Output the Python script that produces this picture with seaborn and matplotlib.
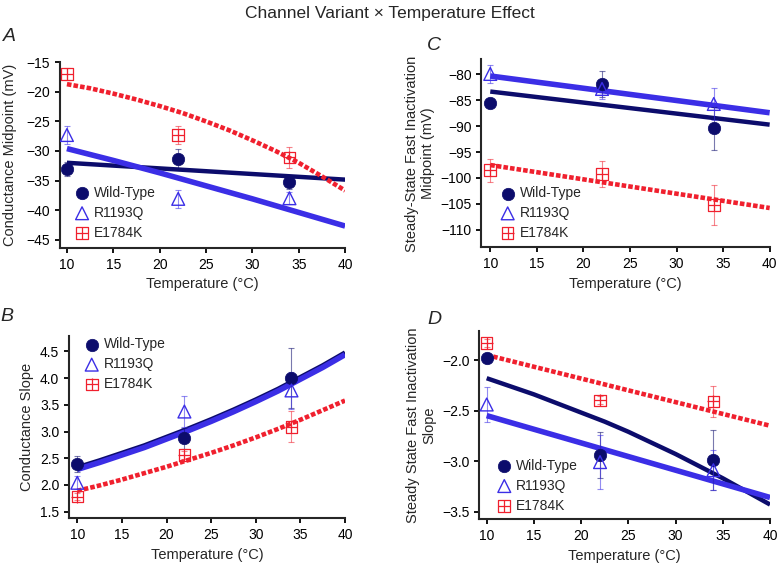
import matplotlib
matplotlib.use("Agg")
import matplotlib.pyplot as plt
from matplotlib.legend_handler import HandlerTuple
import seaborn as sns

# ---- data ----
temps = [10, 22, 34]
groups = ["Wild-Type", "R1193Q", "E1784K"]
fine_t = [10, 12.5, 15, 17.5, 20, 22.5, 25, 27.5, 30, 32.5, 35, 37.5, 40]

# panel A: conductance midpoint (mV)
a_wt = [-33.1, -31.3, -35.3]
a_wt_err = [1.2, 1.6, 1.2]
a_r = [-27.3, -38.1, -38.0]
a_r_err = [1.6, 1.5, 1.0]
a_e = [-17.0, -27.3, -31.1]
a_e_err = [1.0, 1.6, 1.7]
a_fit_wt_t = [10, 40]
a_fit_wt = [-32.0, -34.85]
a_fit_r_t = [10, 15, 20, 25, 30, 35, 40]
a_fit_r = [-29.6, -31.6, -33.7, -35.9, -38.1, -40.4, -42.7]
a_fit_e = [-18.7, -19.4, -20.3, -21.3, -22.4, -23.6, -25.0,
           -26.5, -28.2, -30.0, -32.0, -34.3, -36.7]

# panel B: conductance slope
b_wt = [2.39, 2.875, 4.0]
b_wt_err = [0.15, 0.2, 0.56]
b_r = [2.04, 3.375, 3.77]
b_r_err = [0.12, 0.29, 0.35]
b_e = [1.78, 2.56, 3.09]
b_e_err = [0.07, 0.07, 0.29]
b_fit_wt = [2.33, 2.46, 2.60, 2.74, 2.90, 3.06, 3.23,
            3.41, 3.60, 3.80, 4.02, 4.24, 4.48]
b_fit_r = [2.29, 2.42, 2.56, 2.70, 2.86, 3.02, 3.19,
           3.37, 3.56, 3.76, 3.98, 4.20, 4.44]
b_fit_e = [1.89, 1.99, 2.10, 2.22, 2.34, 2.47, 2.60,
           2.74, 2.89, 3.05, 3.22, 3.40, 3.58]

# panel C: steady-state fast inactivation midpoint (mV)
c_wt = [-85.5, -81.9, -90.4]
c_wt_err = [0.6, 2.5, 4.2]
c_r = [-79.9, -82.8, -85.7]
c_r_err = [1.7, 2.0, 3.1]
c_e = [-98.5, -99.2, -105.2]
c_e_err = [2.2, 2.5, 3.8]
c_fit_t = [10, 40]
c_fit_wt = [-83.3, -89.7]
c_fit_r = [-80.3, -87.4]
c_fit_e = [-97.5, -105.8]

# panel D: steady state fast inactivation slope
d_wt = [-1.98, -2.94, -2.99]
d_wt_err = [0.05, 0.23, 0.3]
d_r = [-2.44, -3.01, -3.09]
d_r_err = [0.17, 0.27, 0.2]
d_e = [-1.83, -2.40, -2.41]
d_e_err = [0.04, 0.04, 0.15]
d_fit_wt = [-2.18, -2.26, -2.34, -2.43, -2.52, -2.61, -2.71,
            -2.82, -2.93, -3.05, -3.17, -3.30, -3.43]
d_fit_t = [10, 40]
d_fit_r = [-2.55, -3.36]
d_fit_e = [-1.95, -2.65]

NAVY = "#0c0c6c"
BLUE = "#3b2ee6"
RED = "#f0202e"

sns.set_style("ticks")
plt.rcParams["font.family"] = ["Liberation Sans", "DejaVu Sans"]
plt.rcParams["axes.linewidth"] = 1.5
plt.rcParams["xtick.major.width"] = 1.3
plt.rcParams["ytick.major.width"] = 1.3
plt.rcParams["xtick.major.size"] = 3.5
plt.rcParams["ytick.major.size"] = 3.5
plt.rcParams["xtick.labelsize"] = 10
plt.rcParams["ytick.labelsize"] = 10
plt.rcParams["axes.labelsize"] = 10.5


def draw_panel(ax, pts, fits, legend_loc, legend_anchor):
    # fit lines: navy, blue, then red dotted on top
    for (ft, fy), col, lw, ls in zip(fits, [NAVY, BLUE, RED], [3.2, 4.0, 3.3],
                                     ["-", "-", (0, (1, 0.45))]):
        sns.lineplot(x=ft, y=fy, color=col, lw=lw, ls=ls, ax=ax,
                     solid_capstyle="butt", dash_capstyle="butt",
                     solid_joinstyle="round", zorder=2)
    (wt, wt_e), (r, r_e), (e, e_e) = pts
    for y, err, col in [(wt, wt_e, NAVY), (r, r_e, BLUE), (e, e_e, RED)]:
        ax.errorbar(temps, y, yerr=err, fmt="none", ecolor=col, alpha=0.55,
                    elinewidth=0.8, capsize=2, capthick=0.8, zorder=3)
    sns.scatterplot(x=temps, y=wt, marker="o", s=80, color=NAVY,
                    edgecolor=NAVY, linewidth=0.5, ax=ax, zorder=4)
    h_wt = ax.collections[-1]
    sns.scatterplot(x=temps, y=r, marker="^", s=85, color=BLUE,
                    facecolors="none", edgecolor=BLUE, linewidth=1.0,
                    ax=ax, zorder=4)
    h_r = ax.collections[-1]
    sns.scatterplot(x=temps, y=e, marker="s", s=70, color=RED,
                    facecolors="none", edgecolor=RED, linewidth=0.9,
                    ax=ax, zorder=4)
    h_sq = ax.collections[-1]
    sns.scatterplot(x=temps, y=e, marker="+", s=70, color=RED,
                    edgecolor=RED, linewidth=0.9, ax=ax, zorder=4)
    h_pl = ax.collections[-1]
    ax.legend(handles=[h_wt, h_r, (h_sq, h_pl)], labels=groups,
              handler_map={tuple: HandlerTuple(ndivide=1)},
              loc=legend_loc, bbox_to_anchor=legend_anchor, frameon=False,
              fontsize=10, handlelength=1.0, handletextpad=0.35,
              labelspacing=0.42, borderpad=0, borderaxespad=0)
    sns.despine(ax=ax)
    ax.set_xticks([10, 15, 20, 25, 30, 35, 40])
    ax.set_xlabel("Temperature (°C)")
    ax.tick_params(direction="out", colors="black")


fig = plt.figure(figsize=(7.79, 5.66), dpi=100)

axA = fig.add_axes([0.077, 0.562, 0.366, 0.329])
draw_panel(axA,
           [(a_wt, a_wt_err), (a_r, a_r_err), (a_e, a_e_err)],
           [(a_fit_wt_t, a_fit_wt), (a_fit_r_t, a_fit_r), (fine_t, a_fit_e)],
           "lower left", (0.053, 0.044))
axA.set_xlim(9.25, 40)
axA.set_ylim(-46.4, -14.9)
axA.set_yticks([-45, -40, -35, -30, -25, -20, -15])
axA.set_ylabel("Conductance Midpoint (mV)", labelpad=7)

axC = fig.add_axes([0.618, 0.563, 0.370, 0.332])
draw_panel(axC,
           [(c_wt, c_wt_err), (c_r, c_r_err), (c_e, c_e_err)],
           [(c_fit_t, c_fit_wt), (c_fit_t, c_fit_r), (c_fit_t, c_fit_e)],
           "lower left", (0.067, 0.040))
axC.set_xlim(9.05, 40)
axC.set_ylim(-113.4, -77.1)
axC.set_yticks([-110, -105, -100, -95, -90, -85, -80])
axC.set_ylabel("Steady-State Fast Inactivation\nMidpoint (mV)")

axB = fig.add_axes([0.0886, 0.0843, 0.3543, 0.3221])
draw_panel(axB,
           [(b_wt, b_wt_err), (b_r, b_r_err), (b_e, b_e_err)],
           [(fine_t, b_fit_wt), (fine_t, b_fit_r), (fine_t, b_fit_e)],
           "upper left", (0.057, 0.992))
axB.set_xlim(9.07, 40)
axB.set_ylim(1.375, 4.79)
axB.set_yticks([1.5, 2.0, 2.5, 3.0, 3.5, 4.0, 4.5])
axB.set_yticklabels([f"{v:.1f}" for v in [1.5, 2.0, 2.5, 3.0, 3.5, 4.0, 4.5]])
axB.set_ylabel("Conductance Slope")

axD = fig.add_axes([0.6153, 0.0825, 0.3732, 0.3332])
draw_panel(axD,
           [(d_wt, d_wt_err), (d_r, d_r_err), (d_e, d_e_err)],
           [(fine_t, d_fit_wt), (d_fit_t, d_fit_r), (d_fit_t, d_fit_e)],
           "lower left", (0.062, 0.036))
axD.set_xlim(9.22, 40)
axD.set_ylim(-3.576, -1.71)
axD.set_yticks([-3.5, -3.0, -2.5, -2.0])
axD.set_yticklabels(["\u22123.5", "\u22123.0", "\u22122.5", "\u22122.0"])
axD.set_ylabel("Steady State Fast Inactivation\nSlope")

fig.text(0.5, 0.977, "Channel Variant \u00d7 Temperature Effect", ha="center",
         va="center", fontsize=12.5)
fig.text(0.004, 0.936, "A", fontsize=14, style="italic", va="center")
fig.text(0.548, 0.920, "C", fontsize=14, style="italic", va="center")
fig.text(0.0, 0.44, "B", fontsize=14, style="italic", va="center")
fig.text(0.549, 0.435, "D", fontsize=14, style="italic", va="center")

fig.savefig("out.png", dpi=100)
